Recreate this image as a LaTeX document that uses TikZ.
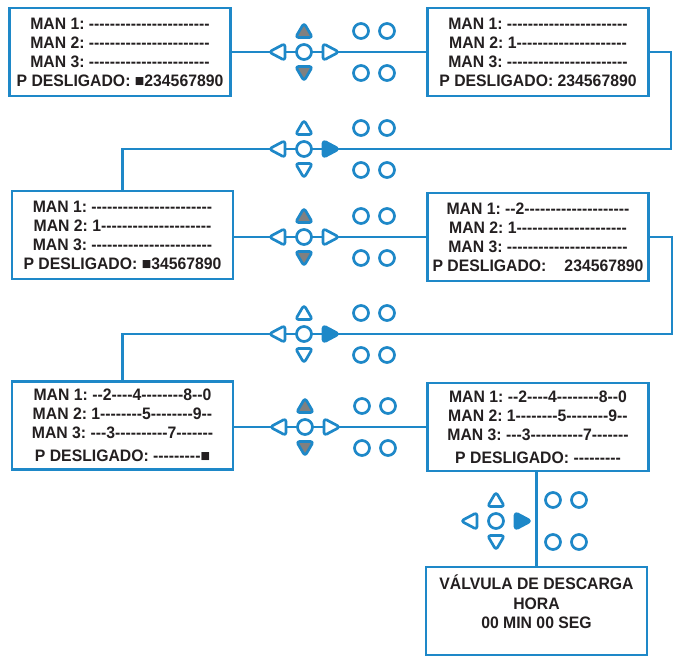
\documentclass[tikz,border=0pt]{standalone}
\usepackage{fontspec}
\newfontfamily\lcdfont{Liberation Sans}[FakeStretch=0.95]
\usetikzlibrary{positioning}
\definecolor{lineblue}{RGB}{30,136,200}
\definecolor{keygray}{RGB}{128,128,128}
\definecolor{inktext}{RGB}{35,31,32}

\begin{document}
\begin{tikzpicture}[x=1pt,y=-1pt,
    screen/.style={draw=lineblue,line width=2.8pt,fill=white,minimum width=221pt,
      minimum height=88pt,inner sep=0pt,align=center,text=inktext,
      font=\lcdfont\bfseries\frenchspacing\fontsize{16.6}{19}\selectfont},
    screentext/.style={inner sep=0pt,align=center,text=inktext,
      font=\lcdfont\bfseries\frenchspacing\fontsize{16.6}{19.5}\selectfont},
    wire/.style={draw=lineblue,line width=2.6pt},
    key/.style={draw=lineblue,line width=2.7pt,fill=white,line join=round},
    updown/.style={},
    fwd/.style={},
    held/.style={updown/.style={fill=keygray}},
    advance/.style={fwd/.style={fill=lineblue}},
    pics/keypad/.style={code={
      \draw[key] (0,0) circle (7.5);
      \draw[key,updown,rounded corners=3pt] (-8.5,-14.5) -- (0,-29) -- (8.5,-14.5) -- cycle;
      \draw[key,updown,rounded corners=3pt] (-8.5,14.5) -- (0,29) -- (8.5,14.5) -- cycle;
      \draw[key,rounded corners=3pt] (-19,-8.5) -- (-35,0) -- (-19,8.5) -- cycle;
      \draw[key,fwd,rounded corners=3pt] (19,-8.5) -- (35,0) -- (19,8.5) -- cycle;
      \foreach \kx in {57,83}
        \foreach \ky in {-21,21}
          \draw[key] (\kx,\ky) circle (7.5);
    }}]
  \useasboundingbox (0,0) rectangle (680,657);

  % screens, left column
  \node[screen] (man0) at (120,52) {MAN 1: -----------------------\\
    MAN 2: -----------------------\\
    MAN 3: -----------------------\\
    P DESLIGADO: ■234567890};
  \node[screen] (man2) at (122.5,235) {MAN 1: -----------------------\\
    MAN 2: 1---------------------\\
    MAN 3: -----------------------\\
    P DESLIGADO: ■34567890};
  \node[screen] (man4) at (122.5,425.5) {MAN 1: --2----4--------8--0\\
    MAN 2: 1--------5--------9--\\
    MAN 3: ---3----------7-------\\[4pt]
    P DESLIGADO: ---------■};

  % screens, right column
  \node[screen] (man1) at (538,52) {MAN 1: -----------------------\\
    MAN 2: 1---------------------\\
    MAN 3: -----------------------\\
    P DESLIGADO: 234567890};
  \node[screen] (man3) at (538,237) {MAN 1: --2--------------------\\
    MAN 2: 1---------------------\\
    MAN 3: -----------------------\\
    P DESLIGADO:\hspace{18pt}234567890};
  \node[screen] (man5) at (538,427) {MAN 1: --2----4--------8--0\\
    MAN 2: 1--------5--------9--\\
    MAN 3: ---3----------7-------\\[4pt]
    P DESLIGADO: ---------};
  \node[screen] (valve) at (536.5,611) {};
  \node[screentext] (valvetext) at (536.5,602) {VÁLVULA DE DESCARGA\\
    HORA\\
    00 MIN 00 SEG};

  % wires
  \coordinate (bend1) at (671,149);
  \coordinate (bend2) at (672,334);
  \draw[wire] (man0.east) -- (man1.west);
  \draw[wire] (man1.east) -| (bend1) -- (bend1 -| man2.north) -- (man2.north);
  \draw[wire] (man2.east |- man3.west) -- (man3.west);
  \draw[wire] (man3.east) -| (bend2) -- (bend2 -| man4.north) -- (man4.north);
  \draw[wire] (man4.east |- man5.west) -- (man5.west);
  \draw[wire] (man5.south -| valve.north) -- (valve.north);

  % keypads
  \pic[held] at (304,52) {keypad};
  \pic[advance] at (304,149) {keypad};
  \pic[held] at (304,237) {keypad};
  \pic[advance] at (304,334) {keypad};
  \pic[held] at (305,427) {keypad};
  \pic[advance] at (496,521) {keypad};
\end{tikzpicture}
\end{document}
